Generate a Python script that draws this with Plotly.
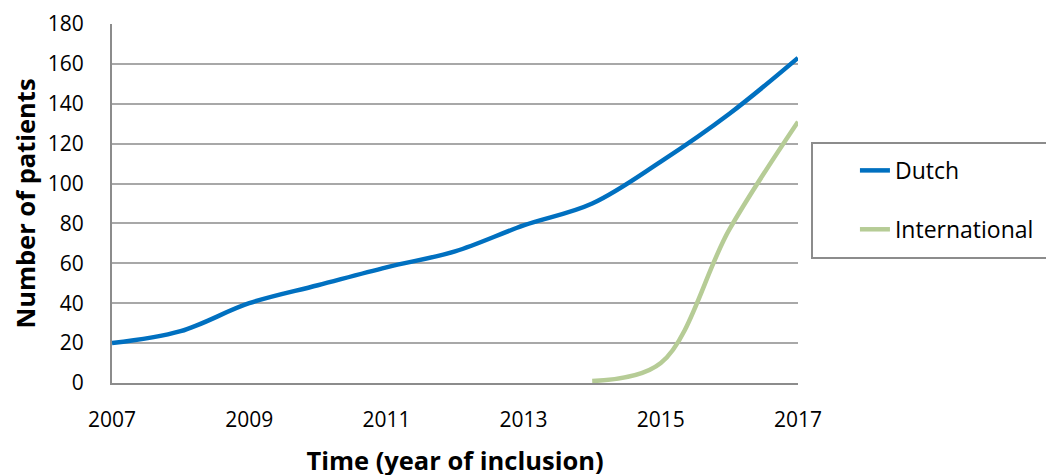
import plotly.graph_objects as go

years = [2007, 2008, 2009, 2010, 2011, 2012, 2013, 2014, 2015, 2016, 2017]
dutch = [20, 26, 40, 49, 58, 66, 79, 90, 111, 135, 163]
intl_years = [2014, 2015, 2016, 2017]
international = [1, 10, 77, 131]
y_ticks = [0, 20, 40, 60, 80, 100, 120, 140, 160, 180]
x_ticks = [2007, 2009, 2011, 2013, 2015, 2017]

FONT = "'Open Sans', sans-serif"

fig = go.Figure()
fig.add_trace(go.Scatter(x=years, y=dutch, mode="lines", name="Dutch",
                         line=dict(color="#0070c0", width=4.5, shape="spline", smoothing=1),
                         legendgroup="a"))
fig.add_trace(go.Scatter(x=intl_years, y=international, mode="lines", name="International",
                         line=dict(color="#b6cc96", width=4.5, shape="spline", smoothing=1),
                         legendgroup="b"))

fig.update_layout(
    width=1054, height=475,
    margin=dict(l=104, r=264, t=16, b=100, autoexpand=False),
    paper_bgcolor="white", plot_bgcolor="white",
    font=dict(family=FONT, size=21, color="black"),
    showlegend=True,
    legend=dict(x=1.083, y=0.652, xanchor="left", yanchor="top",
                bgcolor="rgba(0,0,0,0)", borderwidth=0,
                font=dict(family=FONT, size=23, color="black"),
                tracegroupgap=26, traceorder="grouped"),
    xaxis=dict(range=[2007, 2017], tickvals=x_ticks, ticktext=[str(v) for v in x_ticks],
               showgrid=False, zeroline=False, showline=True, linecolor="#8c8c8c", linewidth=2,
               ticks="", ticklen=0, ticklabelstandoff=17, automargin=False,
               title=dict(text="<b>Time (year of inclusion)</b>", font=dict(size=25.5), standoff=20),
               tickfont=dict(size=21)),
    yaxis=dict(range=[0, 180], tickvals=y_ticks, showgrid=True, gridcolor="#a8a8a8", gridwidth=2,
               zeroline=False, showline=True, linecolor="#8c8c8c", linewidth=2,
               ticks="", ticklen=0, ticklabelstandoff=22, automargin=False,
               title=dict(text="<b>Number of patients</b>", font=dict(size=25.5), standoff=10),
               tickfont=dict(size=21)),
    shapes=[dict(type="rect", xref="paper", yref="paper",
                 x0=(812 - 112) / 686, x1=1.5, y0=(383 - 258) / 359, y1=(383 - 143) / 359,
                 line=dict(color="#8c8c8c", width=2), fillcolor="rgba(0,0,0,0)", layer="below")],
)

fig.write_html("out.html")
